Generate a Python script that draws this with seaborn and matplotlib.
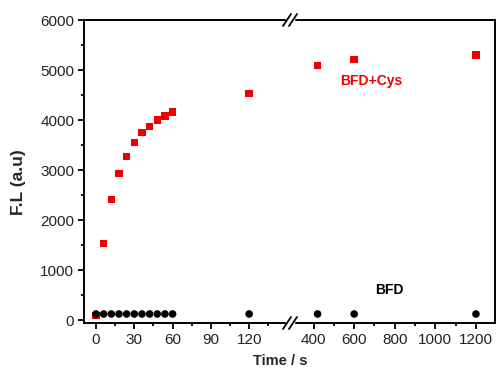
import matplotlib
matplotlib.use("Agg")
import matplotlib.pyplot as plt
from matplotlib.ticker import MultipleLocator, FixedLocator
import seaborn as sns
import pandas as pd

# data
time_s = [0, 6, 12, 18, 24, 30, 36, 42, 48, 54, 60, 120, 420, 600, 1200]
bfd_cys = [100, 1540, 2420, 2940, 3280, 3550, 3750, 3880, 4000, 4080, 4160, 4530, 5090, 5210, 5300]
bfd = [130, 130, 130, 130, 130, 130, 130, 130, 130, 130, 130, 130, 130, 130, 130]

left_ticks = [0, 30, 60, 90, 120]
right_ticks = [400, 600, 800, 1000, 1200]
y_ticks = [0, 1000, 2000, 3000, 4000, 5000, 6000]

df = pd.DataFrame({"Time": time_s, "BFD+Cys": bfd_cys, "BFD": bfd})

sns.set_theme(style="white")
plt.rcParams["font.family"] = ["Liberation Sans", "DejaVu Sans"]
plt.rcParams["axes.linewidth"] = 1.4

fig = plt.figure(figsize=(4.97, 3.74), dpi=100)
x0, x_break, x1 = 84 / 497, 290 / 497, 495 / 497
y0, y1 = 1 - 323 / 374, 1 - 20 / 374
ax_l = fig.add_axes([x0, y0, x_break - x0, y1 - y0])
ax_r = fig.add_axes([x_break, y0, x1 - x_break, y1 - y0], sharey=ax_l)

for ax in (ax_l, ax_r):
    sns.scatterplot(data=df, x="Time", y="BFD+Cys", ax=ax, marker="s", s=28,
                    color="#ee0000", edgecolor="none", legend=False, zorder=3)
    sns.scatterplot(data=df, x="Time", y="BFD", ax=ax, marker="o", s=30,
                    color="black", edgecolor="none", legend=False, zorder=4)
    ax.set_xlabel("")
    ax.set_ylabel("")
    for sp in ax.spines.values():
        sp.set_color("black")
    ax.tick_params(axis="both", which="major", direction="out", length=4.5,
                   width=1.3, color="black", labelsize=11, labelcolor="#222222", pad=2.5)
    ax.tick_params(axis="both", which="minor", direction="out", length=2.5,
                   width=1.3, color="black")

ax_l.set_xlim(-9.4, 152)
ax_r.set_xlim(284, 1294)
ax_l.set_ylim(-50, 6000)
ax_l.xaxis.set_major_locator(FixedLocator(left_ticks))
ax_l.xaxis.set_minor_locator(MultipleLocator(15))
ax_r.xaxis.set_major_locator(FixedLocator(right_ticks))
ax_r.xaxis.set_minor_locator(FixedLocator([500, 700, 900, 1100]))
ax_l.yaxis.set_major_locator(FixedLocator(y_ticks))
ax_l.yaxis.set_minor_locator(MultipleLocator(500))

ax_l.spines["right"].set_visible(False)
ax_r.spines["left"].set_visible(False)
ax_l.tick_params(left=True, bottom=True, which="both")
ax_r.tick_params(left=False, labelleft=False, bottom=True, which="both")

# break marks on the x axis
for yb in (y0, y1):
    fig.patches.append(plt.Rectangle((x_break - 4 / 497, yb - 3 / 374), 8 / 497, 6 / 374,
                                     transform=fig.transFigure, color="white", zorder=10))
    for dx in (-3, 3):
        fig.add_artist(plt.Line2D([x_break + (dx - 4) / 497, x_break + (dx + 4) / 497],
                                  [yb - 6 / 374, yb + 6 / 374], transform=fig.transFigure,
                                  color="black", lw=1.3, zorder=11))

ax_r.text(683, 4780, "BFD+Cys", color="#ee0000", fontsize=10, fontweight="bold",
          ha="center", va="center")
ax_r.text(775, 600, "BFD", color="black", fontsize=10, fontweight="bold",
          ha="center", va="center")

fig.text(280 / 497, 1 - 361 / 374, "Time / s", fontsize=10.5, fontweight="bold",
         ha="center", va="center")
fig.text(18 / 497, 1 - 182.5 / 374, "F.L (a.u)", fontsize=12.5, fontweight="bold",
         rotation=90, ha="center", va="center")

fig.savefig("out.png", dpi=100)
